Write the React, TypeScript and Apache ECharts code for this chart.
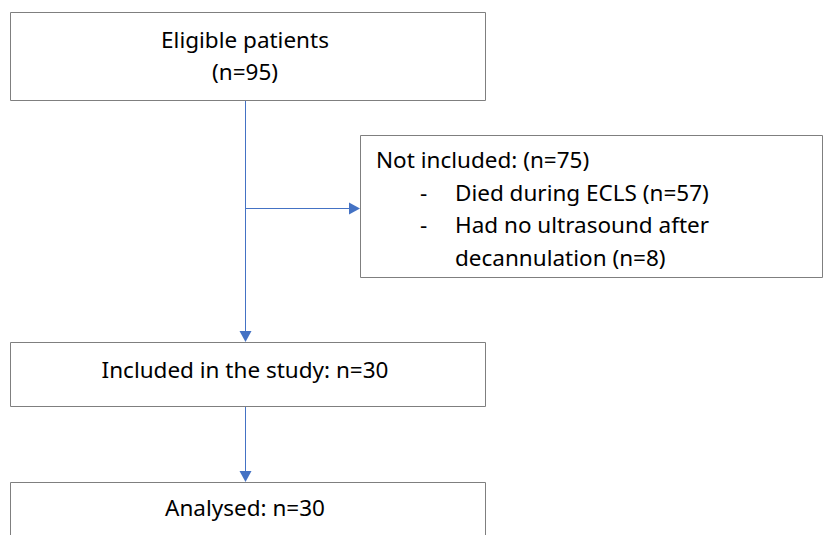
import React, { useEffect, useRef } from "react";
import * as echarts from "echarts";

// ---- data ----
const stageNames: string[] = ["Eligible patients", "Included in the study", "Analysed"];
const stageCounts: number[] = [95, 30, 30];
const excludedTitle = "Not included";
const excludedCount = 75;
const exclusionLines: string[] = ["Died during ECLS (n=57)", "Had no ultrasound after", "decannulation (n=8)"];
const exclusionBullets: boolean[] = [true, true, false];

const FONT = "'Noto Sans', 'Open Sans', sans-serif";
const BORDER = "#7f7f7f";
const BLUE = "#4472C4";
const FS = 22.5;

export default function App() {
  const ref = useRef<HTMLDivElement>(null);
  useEffect(() => {
    document.body.style.margin = "0";
    if (!ref.current) return;
    const chart = echarts.init(ref.current, null, { renderer: "svg" });

    const rect = (x: number, y: number, w: number, h: number) => ({
      type: "rect",
      shape: { x: x + 0.5, y: y + 0.5, width: w, height: h },
      style: { fill: "#fff", stroke: BORDER, lineWidth: 1 },
    });
    const text = (t: string, x: number, y: number, align: string = "center") => ({
      type: "text",
      x,
      y,
      style: { text: t, fill: "#000", fontSize: FS, fontFamily: FONT, align, verticalAlign: "middle" },
    });
    const vline = (x: number, y1: number, y2: number) => ({
      type: "line",
      shape: { x1: x + 0.5, y1, x2: x + 0.5, y2 },
      style: { stroke: BLUE, lineWidth: 1 },
    });
    const hline = (y: number, x1: number, x2: number) => ({
      type: "line",
      shape: { x1, y1: y + 0.5, x2, y2: y + 0.5 },
      style: { stroke: BLUE, lineWidth: 1 },
    });
    const arrowDown = (x: number, tipY: number) => ({
      type: "polygon",
      shape: { points: [[x - 5.5, tipY - 11], [x + 6.5, tipY - 11], [x + 0.5, tipY]] },
      style: { fill: BLUE },
    });
    const arrowRight = (tipX: number, y: number) => ({
      type: "polygon",
      shape: { points: [[tipX - 11, y - 5.5], [tipX - 11, y + 6.5], [tipX, y + 0.5]] },
      style: { fill: BLUE },
    });

    const elements: any[] = [
      // connectors
      vline(245, 100, 331),
      arrowDown(245, 342),
      hline(208, 245, 350),
      arrowRight(360, 208),
      vline(245, 407, 472),
      arrowDown(245, 482),
      // boxes
      rect(10, 12, 475, 88),
      rect(360, 135, 462, 142),
      rect(10, 342, 475, 64),
      rect(10, 482, 475, 80),
      // texts
      text(stageNames[0], 245, 39),
      text(`(n=${stageCounts[0]})`, 245, 71),
      text(`${excludedTitle}: (n=${excludedCount})`, 376, 159, "left"),
      text(`${stageNames[1]}: n=${stageCounts[1]}`, 245, 369),
      text(`${stageNames[2]}: n=${stageCounts[2]}`, 245, 507),
    ];
    exclusionLines.forEach((l, i) => {
      const y = 192 + i * 32.5;
      if (exclusionBullets[i]) elements.push(text("-", 420, y, "left"));
      elements.push(text(l, 455, y, "left"));
    });

    chart.setOption({
      animation: false,
      backgroundColor: "#fff",
      graphic: { elements },
    });
    return () => chart.dispose();
  }, []);
  return <div ref={ref} style={{ width: 823, height: 535 }} />;
}
